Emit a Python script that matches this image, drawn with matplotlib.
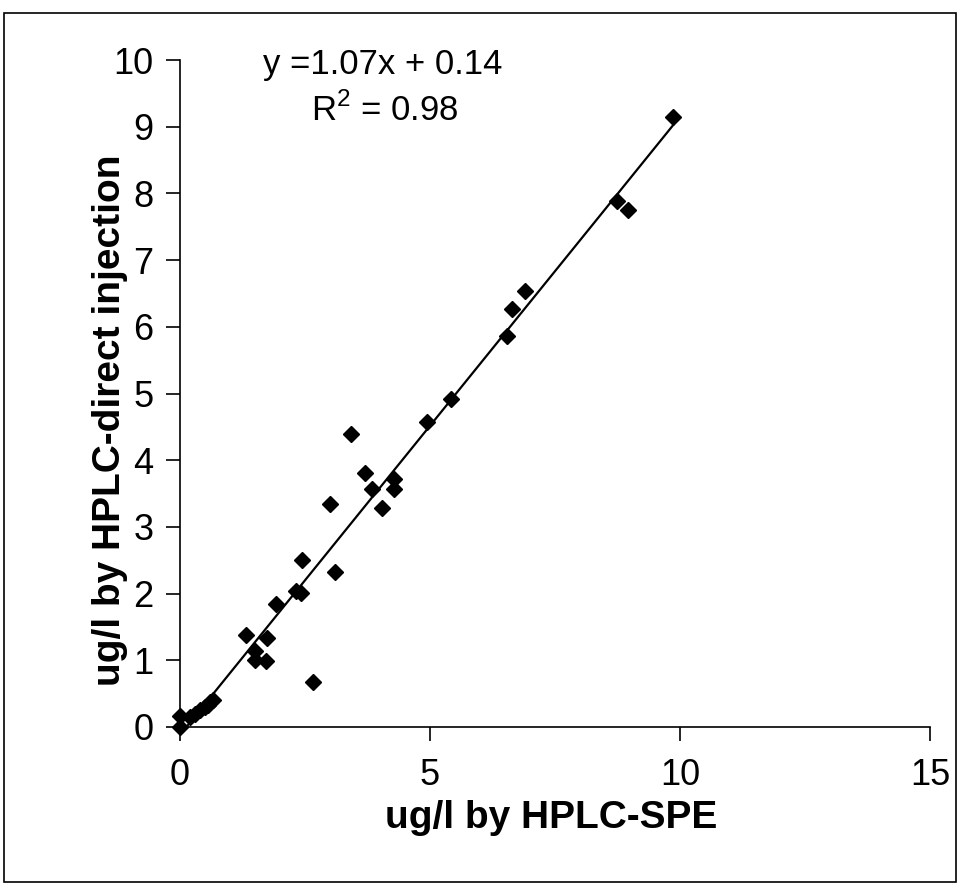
import numpy as np
import matplotlib
matplotlib.use("Agg")
import matplotlib.pyplot as plt
from matplotlib.patches import Rectangle

x_spe = [0, 0, 0.2, 0.3, 0.4, 0.5, 0.55, 0.6, 0.65, 1.32, 1.49, 1.5, 1.72, 1.73,
         1.92, 2.32, 2.41, 2.43, 2.65, 3.0, 3.1, 3.41, 3.69, 3.83, 4.03, 4.27,
         4.28, 4.93, 5.42, 6.53, 6.64, 6.9, 8.74, 8.96, 9.86]
y_direct = [0, 0.17, 0.15, 0.2, 0.26, 0.3, 0.33, 0.37, 0.4, 1.38, 1.14, 1.0, 0.99,
            1.34, 1.84, 2.04, 2.01, 2.5, 0.68, 3.35, 2.33, 4.39, 3.81, 3.57, 3.29,
            3.72, 3.57, 4.58, 4.92, 5.86, 6.27, 6.54, 7.89, 7.75, 9.15]
x_ticks = [0, 5, 10, 15]
y_ticks = list(range(0, 11))
eq_text = "y =1.07x + 0.14"
r2_text = "R$^2$ = 0.98"
x_label = "ug/l by HPLC-SPE"
y_label = "ug/l by HPLC-direct injection"

plt.rcParams['font.family'] = ['Liberation Sans', 'DejaVu Sans']
plt.rcParams['mathtext.fontset'] = 'custom'
plt.rcParams['mathtext.rm'] = 'Liberation Sans'

fig = plt.figure(figsize=(9.61, 8.84), dpi=100)
ax = fig.add_axes([180/961, 1-727/884, 750/961, 667/884])

xs = np.array(x_spe)
ys = np.array(y_direct)
slope, icpt = np.polyfit(xs, ys, 1)
lx = np.array([xs.min(), xs.max()])
ax.plot(lx, slope*lx + icpt, color='black', lw=1.6, zorder=2)
ax.plot(xs, ys, linestyle='none', marker='D', markersize=8, color='black',
        clip_on=False, zorder=3)

ax.set_xlim(0, 15)
ax.set_ylim(0, 10)
ax.set_xticks(x_ticks)
ax.set_yticks(y_ticks)
for s in ['top', 'right']:
    ax.spines[s].set_visible(False)
for s in ['left', 'bottom']:
    ax.spines[s].set_linewidth(1.2)
ax.tick_params(direction='out', length=10, width=1.2, labelsize=26)
ax.tick_params(axis='x', pad=12)
ax.tick_params(axis='y', pad=9)
ax.set_xlabel(x_label, fontsize=28, fontweight='bold')
ax.set_ylabel(y_label, fontsize=28, fontweight='bold')
ax.xaxis.set_label_coords((551-180)/750, (727-818)/667)
ax.yaxis.set_label_coords((110-180)/750, (727-420)/667)
ax.xaxis.label.set_va('center')
ax.yaxis.label.set_va('center')

ax.text(4.06, 9.93, eq_text, fontsize=25, ha='center', va='center')
ax.text(4.1, 9.25, r2_text, fontsize=25, ha='center', va='center')

fig.patches.append(Rectangle((4/961, 2/884), 952/961, 869/884, transform=fig.transFigure,
                             fill=False, edgecolor='black', lw=1.2))

fig.savefig('out.png', dpi=100)
